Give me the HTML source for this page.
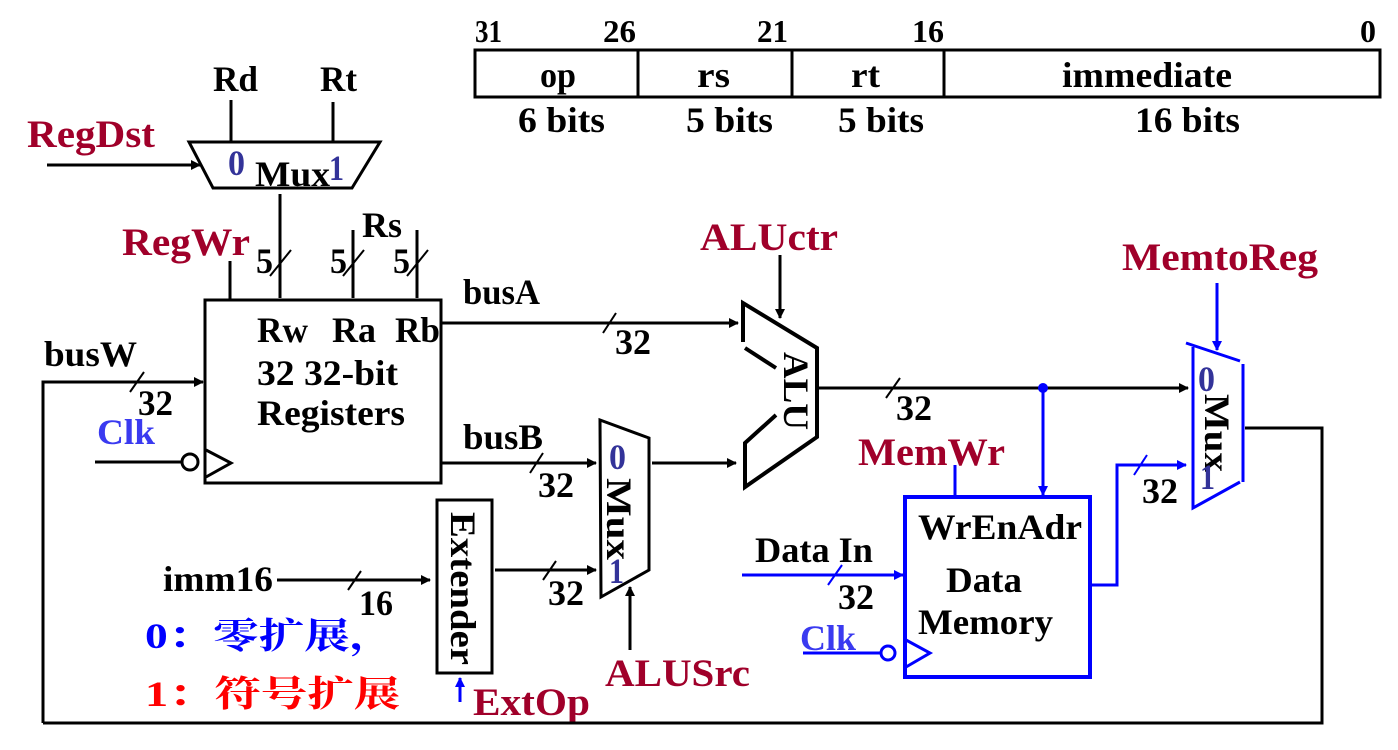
<!DOCTYPE html>
<html><head><meta charset="utf-8"><style>
html,body{margin:0;padding:0;background:#fff;width:1398px;height:750px;overflow:hidden}
svg text{font-family:"Liberation Serif","Noto Serif CJK SC",serif;font-weight:bold}
</style></head><body>
<svg width="1398" height="750" viewBox="0 0 1398 750" xmlns="http://www.w3.org/2000/svg">
<defs>
<marker id="ak" markerWidth="10" markerHeight="10" refX="9" refY="5" orient="auto" markerUnits="userSpaceOnUse"><path d="M0,0 L10,5 L0,10 z" fill="#000"/></marker>
<marker id="ab" markerWidth="10" markerHeight="10" refX="9" refY="5" orient="auto" markerUnits="userSpaceOnUse"><path d="M0,0 L10,5 L0,10 z" fill="#0000ff"/></marker>
</defs>
<g font-size="36" fill="#000">
<!-- instruction format -->
<rect x="475" y="50" width="905" height="47" fill="none" stroke="#000" stroke-width="3"/>
<line x1="638" y1="50" x2="638" y2="97" stroke="#000" stroke-width="3"/>
<line x1="792" y1="50" x2="792" y2="97" stroke="#000" stroke-width="3"/>
<line x1="944" y1="50" x2="944" y2="97" stroke="#000" stroke-width="3"/>
<text x="475" y="42" font-size="32" textLength="27" lengthAdjust="spacingAndGlyphs">31</text>
<text x="603" y="42" font-size="32" textLength="33" lengthAdjust="spacingAndGlyphs">26</text>
<text x="757" y="42" font-size="32" textLength="31" lengthAdjust="spacingAndGlyphs">21</text>
<text x="912" y="42" font-size="32" textLength="32" lengthAdjust="spacingAndGlyphs">16</text>
<text x="1360" y="42" font-size="32" textLength="16" lengthAdjust="spacingAndGlyphs">0</text>
<text x="540" y="87" textLength="36" lengthAdjust="spacingAndGlyphs">op</text>
<text x="697" y="87" textLength="33" lengthAdjust="spacingAndGlyphs">rs</text>
<text x="851" y="87" textLength="29" lengthAdjust="spacingAndGlyphs">rt</text>
<text x="1062" y="87" textLength="170" lengthAdjust="spacingAndGlyphs">immediate</text>
<text x="518" y="132" textLength="87" lengthAdjust="spacingAndGlyphs">6 bits</text>
<text x="686" y="132" textLength="87" lengthAdjust="spacingAndGlyphs">5 bits</text>
<text x="838" y="132" textLength="86" lengthAdjust="spacingAndGlyphs">5 bits</text>
<text x="1135" y="132" textLength="105" lengthAdjust="spacingAndGlyphs">16 bits</text>

<!-- RegDst mux -->
<text x="213" y="91" textLength="45" lengthAdjust="spacingAndGlyphs">Rd</text>
<text x="320" y="91" textLength="37" lengthAdjust="spacingAndGlyphs">Rt</text>
<line x1="231" y1="100" x2="231" y2="142" stroke="#000" stroke-width="3"/>
<line x1="333" y1="102" x2="333" y2="142" stroke="#000" stroke-width="3"/>
<polygon points="189,142 380,142 352,188 213,188" fill="none" stroke="#000" stroke-width="3"/>
<text x="228" y="175" fill="#333399" textLength="17" lengthAdjust="spacingAndGlyphs">0</text>
<text x="255" y="186" textLength="75" lengthAdjust="spacingAndGlyphs">Mux</text>
<text x="329" y="180" fill="#333399" textLength="15" lengthAdjust="spacingAndGlyphs">1</text>
<text x="27" y="147" fill="#a0002a" font-size="39" textLength="128" lengthAdjust="spacingAndGlyphs">RegDst</text>
<line x1="47" y1="165" x2="200" y2="165" stroke="#000" stroke-width="3" marker-end="url(#ak)"/>
<line x1="280" y1="194" x2="280" y2="298" stroke="#000" stroke-width="3"/>

<!-- register file -->
<rect x="205" y="300" width="236" height="183" fill="none" stroke="#000" stroke-width="3"/>
<text x="122" y="255" fill="#a0002a" font-size="39" textLength="128" lengthAdjust="spacingAndGlyphs">RegWr</text>
<line x1="230" y1="261" x2="230" y2="300" stroke="#000" stroke-width="3"/>
<line x1="353" y1="230" x2="353" y2="298" stroke="#000" stroke-width="3"/>
<line x1="417" y1="230" x2="417" y2="298" stroke="#000" stroke-width="3"/>
<text x="362" y="237" textLength="40" lengthAdjust="spacingAndGlyphs">Rs</text>
<text x="256" y="273" textLength="17" lengthAdjust="spacingAndGlyphs">5</text>
<text x="330" y="273" textLength="17" lengthAdjust="spacingAndGlyphs">5</text>
<text x="393" y="273" textLength="17" lengthAdjust="spacingAndGlyphs">5</text>
<line x1="270" y1="276" x2="291" y2="250" stroke="#000" stroke-width="2"/>
<line x1="343" y1="276" x2="364" y2="250" stroke="#000" stroke-width="2"/>
<line x1="407" y1="276" x2="428" y2="250" stroke="#000" stroke-width="2"/>
<text x="257" y="342" textLength="51" lengthAdjust="spacingAndGlyphs">Rw</text>
<text x="332" y="342" textLength="44" lengthAdjust="spacingAndGlyphs">Ra</text>
<text x="395" y="342" textLength="45" lengthAdjust="spacingAndGlyphs">Rb</text>
<text x="257" y="385" textLength="141" lengthAdjust="spacingAndGlyphs">32 32-bit</text>
<text x="257" y="425" textLength="148" lengthAdjust="spacingAndGlyphs">Registers</text>
<text x="44" y="366" textLength="93" lengthAdjust="spacingAndGlyphs">busW</text>
<polyline points="43,723 43,382 203,382" fill="none" stroke="#000" stroke-width="3" marker-end="url(#ak)"/>
<line x1="130" y1="392" x2="144" y2="372" stroke="#000" stroke-width="2"/>
<text x="138" y="415" textLength="35" lengthAdjust="spacingAndGlyphs">32</text>
<text x="97" y="444" fill="#3a3af0" textLength="58" lengthAdjust="spacingAndGlyphs">Clk</text>
<line x1="95" y1="462" x2="182" y2="462" stroke="#000" stroke-width="3"/>
<circle cx="190" cy="462" r="8" fill="#fff" stroke="#000" stroke-width="3"/>
<polyline points="206,450 231,463 206,477" fill="none" stroke="#000" stroke-width="3"/>

<!-- busA / busB -->
<text x="463" y="304" textLength="77" lengthAdjust="spacingAndGlyphs">busA</text>
<line x1="441" y1="323" x2="738" y2="323" stroke="#000" stroke-width="3" marker-end="url(#ak)"/>
<line x1="603" y1="333" x2="616" y2="313" stroke="#000" stroke-width="2"/>
<text x="615" y="354" textLength="36" lengthAdjust="spacingAndGlyphs">32</text>
<text x="463" y="449" textLength="80" lengthAdjust="spacingAndGlyphs">busB</text>
<line x1="441" y1="463" x2="596" y2="463" stroke="#000" stroke-width="3" marker-end="url(#ak)"/>
<line x1="530" y1="473" x2="543" y2="453" stroke="#000" stroke-width="2"/>
<text x="538" y="497" textLength="36" lengthAdjust="spacingAndGlyphs">32</text>

<!-- extender -->
<rect x="437" y="500" width="55" height="173" fill="none" stroke="#000" stroke-width="3"/>
<text transform="translate(451,512) rotate(90)" textLength="153" lengthAdjust="spacingAndGlyphs">Extender</text>
<text x="163" y="591" textLength="110" lengthAdjust="spacingAndGlyphs">imm16</text>
<line x1="277" y1="580" x2="430" y2="580" stroke="#000" stroke-width="3" marker-end="url(#ak)"/>
<line x1="348" y1="590" x2="361" y2="571" stroke="#000" stroke-width="2"/>
<text x="359" y="615" textLength="34" lengthAdjust="spacingAndGlyphs">16</text>
<line x1="495" y1="570" x2="596" y2="570" stroke="#000" stroke-width="3" marker-end="url(#ak)"/>
<line x1="543" y1="580" x2="556" y2="561" stroke="#000" stroke-width="2"/>
<text x="548" y="605" textLength="36" lengthAdjust="spacingAndGlyphs">32</text>
<line x1="460" y1="702" x2="460" y2="678" stroke="#0000ff" stroke-width="3" marker-end="url(#ab)"/>
<text x="473" y="715" fill="#a0002a" font-size="39" textLength="117" lengthAdjust="spacingAndGlyphs">ExtOp</text>
<text x="145" y="648" fill="#0000ff" font-size="36" textLength="250" lengthAdjust="spacingAndGlyphs">0：零扩展，</text>
<text x="145" y="706" fill="#ff0000" font-size="36" textLength="255" lengthAdjust="spacingAndGlyphs">1：符号扩展</text>

<!-- ALUSrc mux -->
<polygon points="600,420 649,438 649,570 601,597" fill="none" stroke="#000" stroke-width="3"/>
<text x="609" y="469" fill="#333399" textLength="17" lengthAdjust="spacingAndGlyphs">0</text>
<text transform="translate(607,478) rotate(90)" textLength="82" lengthAdjust="spacingAndGlyphs">Mux</text>
<text x="609" y="583" fill="#333399" textLength="15" lengthAdjust="spacingAndGlyphs">1</text>
<line x1="630" y1="650" x2="630" y2="587" stroke="#000" stroke-width="3" marker-end="url(#ak)"/>
<text x="605" y="686" fill="#a0002a" font-size="39" textLength="145" lengthAdjust="spacingAndGlyphs">ALUSrc</text>
<line x1="652" y1="463" x2="736" y2="463" stroke="#000" stroke-width="3" marker-end="url(#ak)"/>

<!-- ALU -->
<polyline points="743,342 743,303 817,348 817,437 745,487 745,443 776,415" fill="none" stroke="#000" stroke-width="4"/>
<line x1="745" y1="348" x2="776" y2="368" stroke="#000" stroke-width="4"/>
<text transform="translate(784,352) rotate(90)" font-size="36" textLength="78" lengthAdjust="spacingAndGlyphs">ALU</text>
<text x="700" y="250" fill="#a0002a" font-size="39" textLength="138" lengthAdjust="spacingAndGlyphs">ALUctr</text>
<line x1="780" y1="255" x2="780" y2="318" stroke="#000" stroke-width="3" marker-end="url(#ak)"/>
<line x1="817" y1="388" x2="1188" y2="388" stroke="#000" stroke-width="3" marker-end="url(#ak)"/>
<line x1="886" y1="398" x2="900" y2="378" stroke="#000" stroke-width="2"/>
<text x="896" y="420" textLength="36" lengthAdjust="spacingAndGlyphs">32</text>
<circle cx="1043" cy="388" r="5" fill="#0000ff"/>
<line x1="1043" y1="390" x2="1043" y2="495" stroke="#0000ff" stroke-width="3" marker-end="url(#ab)"/>

<!-- data memory -->
<text x="858" y="465" fill="#a0002a" font-size="39" textLength="147" lengthAdjust="spacingAndGlyphs">MemWr</text>
<line x1="955" y1="465" x2="955" y2="497" stroke="#0000ff" stroke-width="3"/>
<rect x="905" y="497" width="185" height="180" fill="none" stroke="#0000ff" stroke-width="4"/>
<text x="918" y="539" textLength="164" lengthAdjust="spacingAndGlyphs">WrEnAdr</text>
<text x="946" y="592" textLength="76" lengthAdjust="spacingAndGlyphs">Data</text>
<text x="918" y="634" textLength="135" lengthAdjust="spacingAndGlyphs">Memory</text>
<text x="755" y="562" textLength="118" lengthAdjust="spacingAndGlyphs">Data In</text>
<line x1="742" y1="575" x2="903" y2="575" stroke="#0000ff" stroke-width="3" marker-end="url(#ab)"/>
<line x1="828" y1="585" x2="842" y2="565" stroke="#0000ff" stroke-width="2"/>
<text x="838" y="609" textLength="36" lengthAdjust="spacingAndGlyphs">32</text>
<text x="800" y="650" fill="#3a3af0" textLength="56" lengthAdjust="spacingAndGlyphs">Clk</text>
<line x1="803" y1="653" x2="880" y2="653" stroke="#0000ff" stroke-width="3"/>
<circle cx="888" cy="653" r="7" fill="#fff" stroke="#0000ff" stroke-width="3"/>
<polyline points="906,640 930,653 906,667" fill="none" stroke="#0000ff" stroke-width="3"/>
<polyline points="1090,585 1117,585 1117,465 1186,465" fill="none" stroke="#0000ff" stroke-width="3" marker-end="url(#ab)"/>
<line x1="1134" y1="475" x2="1147" y2="455" stroke="#0000ff" stroke-width="2"/>
<text x="1142" y="503" textLength="36" lengthAdjust="spacingAndGlyphs">32</text>

<!-- MemtoReg mux -->
<line x1="1186" y1="343" x2="1240" y2="361" stroke="#0000ff" stroke-width="3"/>
<polyline points="1193,347 1193,508 1240,482" fill="none" stroke="#0000ff" stroke-width="3"/>
<line x1="1243" y1="364" x2="1243" y2="482" stroke="#0000ff" stroke-width="3"/>
<text x="1198" y="391" fill="#333399" textLength="17" lengthAdjust="spacingAndGlyphs">0</text>
<text transform="translate(1205,394) rotate(90)" textLength="78" lengthAdjust="spacingAndGlyphs">Mux</text>
<text x="1200" y="489" fill="#333399" textLength="15" lengthAdjust="spacingAndGlyphs">1</text>
<text x="1122" y="270" fill="#a0002a" font-size="39" textLength="196" lengthAdjust="spacingAndGlyphs">MemtoReg</text>
<line x1="1217" y1="283" x2="1217" y2="350" stroke="#0000ff" stroke-width="3" marker-end="url(#ab)"/>
<polyline points="1245,428 1322,428 1322,723 43,723" fill="none" stroke="#000" stroke-width="3"/>
</g>
</svg>
</body></html>
